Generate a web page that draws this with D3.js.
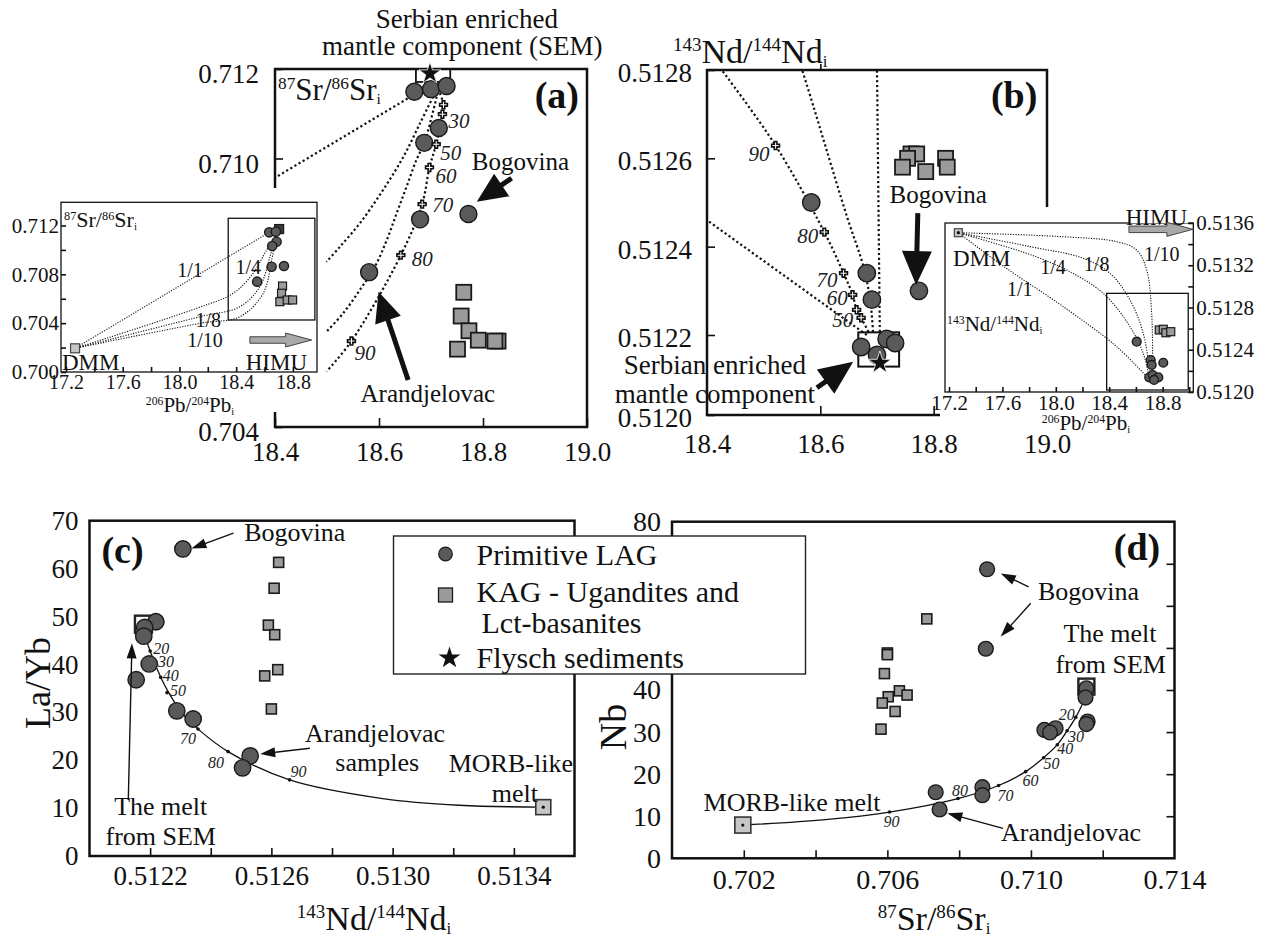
<!DOCTYPE html>
<html><head><meta charset="utf-8">
<script src="https://cdn.jsdelivr.net/npm/d3@7"></script>
<style>html,body{margin:0;padding:0;background:#fff}svg{display:block}</style>
</head><body>
<script>
// ================= DATA =================
// ---- panel (a) main: 206Pb/204Pb (x) vs 87Sr/86Sr (y)
const aXTicks=[18.4,18.6,18.8,19.0];
const aYTicks=[0.704,0.710,0.712];
const aCircles=[[18.668,0.71149],[18.700,0.71155],[18.730,0.71162],[18.715,0.71068],[18.687,0.71035],[18.772,0.70876],[18.679,0.70864],[18.581,0.70746]];
const aSquares=[[18.763,0.70701],[18.758,0.70648],[18.773,0.70615],[18.791,0.70594],[18.829,0.70592],[18.823,0.70592],[18.751,0.70574]];
const aStar=[[18.698,0.71190]];
const aSemBox=[[18.671,0.71171],[18.737,0.71200]];
const aMix1=[[18.655,0.71134],[18.400,0.70957]];
const aMix2=[[18.704,0.71138],[18.679,0.71079],[18.647,0.71004],[18.608,0.70930],[18.563,0.70855],[18.525,0.70803],[18.499,0.70769]];
const aMix3=[[18.711,0.71138],[18.687,0.71035],[18.672,0.70997],[18.653,0.70937],[18.634,0.70878],[18.615,0.70818],[18.592,0.70758],[18.563,0.70706],[18.531,0.70654],[18.499,0.70613]];
const aMix4=[[18.717,0.71146],[18.724,0.71120],[18.722,0.71099],[18.710,0.71032],[18.697,0.70980],[18.683,0.70898],[18.642,0.70784],[18.547,0.70592],[18.499,0.70524]];
const aMixTicks=[[18.724,0.71120,''],[18.722,0.71099,'30'],[18.710,0.71032,'50'],[18.697,0.70980,'60'],[18.683,0.70898,'70'],[18.642,0.70784,'80'],[18.547,0.70592,'90']];
const aNotes=[['Serbian enriched',18.769,0.71292],['mantle component (SEM)',18.760,0.71231],['Bogovina',18.872,0.70974],['Arandjelovac',18.694,0.70456]];
const aArrows=[[18.855,0.709558,18.788,0.709035],[18.656,0.705050,18.599,0.707024]];
const aLetter=['(a)',18.942,0.71113];

// ---- panel (a) inset
const aiXTicks=[17.2,17.6,18.0,18.4,18.8];
const aiYTicks=[0.700,0.704,0.708,0.712];
const aiCircles=[[18.633,0.71144],[18.680,0.71149],[18.685,0.71067],[18.654,0.71032],[18.650,0.70862],[18.737,0.70868],[18.548,0.70740]];
const aiSquares=[[18.727,0.70704],[18.720,0.70645],[18.708,0.70576],[18.760,0.70590],[18.798,0.70590]];
const aiDark=[[18.703,0.71171]];
const aiDMM=[[17.264,0.70194]];
const aiMix11=[[17.264,0.70194],[18.633,0.71144]];
const aiMix14=[[17.264,0.70194],[18.121,0.705218],[18.379,0.706446],[18.520,0.708084],[18.615,0.709993],[18.650,0.710541]];
const aiMix18=[[17.264,0.70194],[18.145,0.704529],[18.426,0.705348],[18.567,0.706987],[18.638,0.709444],[18.661,0.710402]];
const aiMix110=[[17.264,0.70194],[18.145,0.703989],[18.426,0.704529],[18.591,0.706446],[18.650,0.709174],[18.673,0.710402]];
const aiMixLabels=[['1/1',18.074,0.70778],['1/4',18.485,0.70803],['1/8',18.203,0.70369],['1/10',18.180,0.70205]];
const aiZoomBox=[[18.344,0.70426],[18.955,0.71259]];
const aiHimu=[18.497,18.932,0.70262];

// ---- panel (b) main: 206Pb/204Pb (x) vs 143Nd/144Nd (y)
const bXTicks=[18.4,18.6,18.8,19.0];
const bYTicks=[0.5120,0.5122,0.5124,0.5126,0.5128];
const bCircles=[[18.700,0.51215],[18.584,0.51250],[18.682,0.51234],[18.691,0.51228],[18.774,0.51230],[18.672,0.51217],[18.717,0.51219],[18.732,0.51218]];
const bSquares=[[18.760,0.51261],[18.770,0.51261],[18.754,0.51260],[18.745,0.51258],[18.786,0.51257],[18.821,0.51260],[18.824,0.51258]];
const bStar=[[18.705,0.51213]];
const bSemBox=[[18.667,0.512121],[18.739,0.512206]];
const bMix1=[[18.682,0.51220],[18.400,0.51246]];
const bMix2=[[18.685,0.512207],[18.672,0.512239],[18.664,0.512257],[18.657,0.512291],[18.641,0.512340],[18.607,0.512433],[18.521,0.512629],[18.426,0.5128]];
const bMix3=[[18.693,0.512207],[18.688,0.512279],[18.676,0.512355],[18.647,0.512468],[18.611,0.512619],[18.588,0.512717],[18.568,0.5128]];
const bMix4=[[18.705,0.512207],[18.700,0.5128]];
const bMixTicks=[[18.672,0.512239,'50'],[18.664,0.512257,''],[18.657,0.512291,'60'],[18.641,0.512340,'70'],[18.607,0.512433,'80'],[18.521,0.512629,'90']];
const bNotes=[['Bogovina',18.808,0.512499],['Serbian enriched',18.414,0.512103],['mantle component',18.414,0.512030]];
const bArrows=[[18.772,0.512476,18.769,0.512313],[18.594,0.512068,18.658,0.512133]];
const bLetter=['(b)',18.942,0.512714];

// ---- panel (b) inset
const biXTicks=[17.2,17.6,18.0,18.4,18.8];
const biYTicks=[0.5120,0.5124,0.5128,0.5132,0.5136];
const biCircles=[[18.606,0.512476],[18.711,0.512303],[18.718,0.512256],[18.805,0.512277],[18.700,0.512139],[18.726,0.512161],[18.768,0.512139],[18.736,0.512114]];
const biSquares=[[18.775,0.512587],[18.805,0.512594],[18.825,0.512561],[18.861,0.512571]];
const biDMM=[[17.27,0.513508]];
const biMix11=[[17.27,0.513508],[17.619,0.513181],[18.056,0.512808],[18.456,0.512429],[18.681,0.512145]];
const biMix14=[[17.27,0.513508],[17.707,0.513344],[17.882,0.513266],[18.082,0.513155],[18.356,0.512934],[18.556,0.512618],[18.655,0.512366],[18.693,0.512177]];
const biMix18=[[17.27,0.513508],[17.807,0.513376],[18.206,0.513266],[18.406,0.513124],[18.556,0.512871],[18.655,0.512556],[18.706,0.512177]];
const biMix110=[[17.27,0.513508],[18.056,0.513470],[18.456,0.513423],[18.606,0.513344],[18.681,0.513155],[18.718,0.512745],[18.726,0.512192]];
const biMixLabels=[['1/1',17.730,0.512909],['1/4',17.979,0.513117],['1/8',18.306,0.513146],['1/10',18.793,0.513240]];
const biZoomBox=[[18.381,0.512019],[18.992,0.512934]];
const biHimu=[18.548,19.027,0.51354];

// ---- panel (c): 143Nd/144Nd (x) vs La/Yb (y)
const cXTicks=[0.5122,0.5126,0.5130,0.5134];
const cYTicks=[0,10,20,30,40,50,60,70];
const cCircles=[[0.512308,64.1],[0.512219,48.9],[0.512182,47.7],[0.512179,45.9],[0.512197,40.1],[0.512154,36.8],[0.512288,30.3],[0.512342,28.6],[0.512530,20.9],[0.512505,18.4]];
const cSquares=[[0.512624,61.3],[0.512609,55.9],[0.512590,48.2],[0.512611,46.2],[0.512621,38.9],[0.512578,37.6],[0.512600,30.7]];
const cSEM=[[0.512178,48.4]];
const cMORB=[[0.513497,10.2]];
const cMix=[[0.512178,48.4],[0.512182,46.5],[0.512200,42.8],[0.512235,37.3],[0.512264,33.8],[0.512311,29.4],[0.512358,26.5],[0.512457,21.8],[0.512660,15.9],[0.512967,12.0],[0.513220,10.6],[0.513497,10.2]];
const cMixTicks=[[0.512200,42.8,'20'],[0.512216,40.2,'30'],[0.512235,37.3,'40'],[0.512256,34.1,'50'],[0.512358,26.5,'70'],[0.512457,21.8,'80'],[0.512660,15.9,'90']];
const cNotes=[['Bogovina',0.512677,65.8],['Arandjelovac',0.512942,23.8],['samples',0.512949,17.7],['MORB-like',0.513390,17.5],['melt',0.513403,11.3],['The melt',0.512235,8.6],['from SEM',0.512235,2.3]];
const cArrows=[[0.512475,67.4,0.512336,64.2],[0.512727,22.5,0.512563,21.3],[0.512128,11.7,0.512140,44.4]];
const cLetter=['(c)',0.512109,61.2];

// ---- panel (d): 87Sr/86Sr (x) vs Nb (y)
const dXTicks=[0.702,0.706,0.710,0.714];
const dYTicks=[0,10,20,30,40,80];   // 50-70 are hidden behind the legend in the original
const dCircles=[[0.708779,68.7],[0.708743,49.8],[0.711545,40.4],[0.711521,38.2],[0.711579,32.5],[0.711545,31.9],[0.710375,30.5],[0.710687,30.9],[0.710531,29.9],[0.707347,15.7],[0.708648,16.9],[0.708648,15.0],[0.707456,11.6]];
const dSquares=[[0.707099,56.9],[0.706001,48.8],[0.706001,48.4],[0.705918,43.9],[0.706024,38.4],[0.705859,36.9],[0.706335,39.8],[0.706550,38.8],[0.706216,34.9],[0.705823,30.7]];
const dSEM=[[0.711545,40.8]];
const dMORB=[[0.701973,7.9]];
const dMix=[[0.701973,7.9],[0.704271,9.2],[0.706060,11.0],[0.707968,14.2],[0.709099,17.3],[0.709852,20.6],[0.710353,23.9],[0.710735,27.0],[0.711008,30.3],[0.711248,33.5],[0.711521,38.2]];
const dMixTicks=[[0.706060,11.0,'90'],[0.707968,14.2,'80'],[0.709099,17.3,'70'],[0.709852,20.6,'60'],[0.710353,23.9,'50'],[0.710735,27.0,'40'],[0.711008,30.3,'30'],[0.711248,33.5,'20']];
const dNotes=[['Bogovina',0.711604,61.4],['The melt',0.712203,51.4],['from SEM',0.712222,44.0],['MORB-like melt',0.703343,11.2],['Arandjelovac',0.711116,4.1]];
const dArrows=[[0.709935,64.5,0.709161,67.7],[0.709994,60.6,0.709161,52.7],[0.709222,7.1,0.707670,10.7]];
const dLetter=['(d)',0.712955,71.0];

// ---- legend
const legendItems=[['circle',['Primitive LAG']],['square',['KAG - Ugandites and','Lct-basanites']],['star',['Flysch sediments']]];

// ================= STYLE / LAYOUT =================
const FONT="'Liberation Serif','Times New Roman',Times,serif";
const INK='#111';
const C_FILL='#5a5a5a', S_FILL='#9b9b9b', L_FILL='#c6c6c6';
const offA={'30':[6,6],'50':[4,8],'60':[6,8],'70':[10,1],'80':[11,3],'90':[3,12]};
const offB={'50':[-8,2],'60':[-5,3],'70':[-6,6],'80':[-6,4],'90':[-6,8]};
const offC={'20':[11,-3],'30':[11,-2],'40':[10,-2],'50':[11,-2],'70':[-10,9],'80':[-12,11],'90':[9,-8]};
const offD={'90':[2,9],'80':[2,-8],'70':[7,10],'60':[5,9],'50':[8,6],'40':[8,4],'30':[9,6],'20':[-9,-3]};

const svg=d3.select('body').append('svg').attr('width',1261).attr('height',941).attr('font-family',FONT);
svg.append('rect').attr('width',1261).attr('height',941).attr('fill','#fff');

// ---------- helpers ----------
function rich(g,x,y,parts,size,anchor,rot){
  const t=g.append('text').attr('x',x).attr('y',y).attr('font-size',size).attr('fill',INK).attr('text-anchor',anchor||'start');
  if(rot) t.attr('transform',`rotate(${rot},${x},${y})`);
  let cur=0;
  parts.forEach(([s,k])=>{
    const target=k==='sup'?-0.34*size:k==='sub'?0.12*size:0;
    t.append('tspan').attr('dy',target-cur).attr('font-size',k==='sup'?size*0.56:k==='sub'?size*0.5:size).text(s);
    cur=target;
  });
  return t;
}
const PB=[['206','sup'],['Pb/',''],['204','sup'],['Pb',''],['i','sub']];
const SR=[['87','sup'],['Sr/',''],['86','sup'],['Sr',''],['i','sub']];
const ND=[['143','sup'],['Nd/',''],['144','sup'],['Nd',''],['i','sub']];

function axis(g,gen,tx,ty,size){
  const a=g.append('g').attr('transform',`translate(${tx},${ty})`).call(gen);
  a.select('.domain').remove();
  a.selectAll('.tick line').attr('stroke',INK).attr('stroke-width',1.6);
  a.selectAll('.tick text').attr('font-size',size).attr('font-family',FONT).attr('fill',INK);
  return a;
}
function labelIf(list,fmt){return d=>list.some(t=>Math.abs(t-d)<1e-9)?fmt(d):'';}
function frame(g,xs,ys,w){
  const [x0,x1]=xs.range(), [y0,y1]=[d3.min(ys.range()),d3.max(ys.range())];
  g.append('rect').attr('x',Math.min(x0,x1)).attr('y',y0).attr('width',Math.abs(x1-x0)).attr('height',y1-y0).attr('fill','none').attr('stroke',INK).attr('stroke-width',w);
}
function curve(g,pts,xs,ys,w,dash){
  g.append('path').datum(pts).attr('d',d3.line().x(d=>xs(d[0])).y(d=>ys(d[1])).curve(d3.curveCatmullRom.alpha(0.5)))
   .attr('fill','none').attr('stroke',INK).attr('stroke-width',w).attr('stroke-dasharray',dash||null);
}
function circles(g,data,xs,ys,r,fill){
  g.selectAll(null).data(data).join('circle').attr('cx',d=>xs(d[0])).attr('cy',d=>ys(d[1])).attr('r',r)
   .attr('fill',fill||C_FILL).attr('stroke','#1a1a1a').attr('stroke-width',1.4);
}
function squares(g,data,xs,ys,s,fill,sw,stroke){
  g.selectAll(null).data(data).join('rect').attr('x',d=>xs(d[0])-s/2).attr('y',d=>ys(d[1])-s/2).attr('width',s).attr('height',s)
   .attr('fill',fill).attr('stroke',stroke||'#1a1a1a').attr('stroke-width',sw||1.6);
}
function centerDots(g,data,xs,ys){
  g.selectAll(null).data(data).join('circle').attr('cx',d=>xs(d[0])).attr('cy',d=>ys(d[1])).attr('r',1.6).attr('fill',INK);
}
function stars(g,data,xs,ys,size){
  g.selectAll(null).data(data).join('path').attr('d',d3.symbol(d3.symbolStar,size)())
   .attr('transform',d=>`translate(${xs(d[0])},${ys(d[1])})`).attr('fill',INK).attr('stroke','#fff').attr('stroke-width',0.8);
}
function crosses(g,data,xs,ys){
  g.selectAll(null).data(data).join('path').attr('d',d3.symbol(d3.symbolCross,34)())
   .attr('transform',d=>`translate(${xs(d[0])},${ys(d[1])})`).attr('fill','#fff').attr('stroke',INK).attr('stroke-width',1.6);
}
function tickLabels(g,data,xs,ys,off,size,anchor){
  data.filter(d=>d[2]&&off[d[2]]).forEach(d=>{
    const o=off[d[2]];
    g.append('text').attr('x',xs(d[0])+o[0]).attr('y',ys(d[1])+o[1]).attr('dy','0.35em').attr('font-size',size)
     .attr('font-style','italic').attr('fill','#222').attr('text-anchor',anchor).text(d[2]);
  });
}
function smallDots(g,data,xs,ys){
  g.selectAll(null).data(data).join('circle').attr('cx',d=>xs(d[0])).attr('cy',d=>ys(d[1])).attr('r',1.8).attr('fill',INK);
}
function notes(g,data,xs,ys,size,anchor){
  data.forEach(d=>g.append('text').attr('x',xs(d[1])).attr('y',ys(d[2])).attr('font-size',size).attr('fill',INK).attr('text-anchor',anchor||'middle').text(d[0]));
}
function arrows(g,data,xs,ys,w,hl,hw){
  data.forEach(a=>{
    const x1=xs(a[0]),y1=ys(a[1]),x2=xs(a[2]),y2=ys(a[3]);
    const dx=x2-x1,dy=y2-y1,L=Math.hypot(dx,dy),ux=dx/L,uy=dy/L;
    const bx=x2-ux*hl,by=y2-uy*hl;
    g.append('line').attr('x1',x1).attr('y1',y1).attr('x2',bx+ux*2).attr('y2',by+uy*2).attr('stroke',INK).attr('stroke-width',w);
    g.append('path').attr('d',`M${x2},${y2}L${bx-uy*hw/2},${by+ux*hw/2}L${bx+uy*hw/2},${by-ux*hw/2}Z`).attr('fill',INK);
  });
}
function fatArrow(g,h,xs,ys){
  const x1=xs(h[0]),x2=xs(h[1]),y=ys(h[2]),sh=6.5,hl=26,hw=14,hx=x2-hl;
  g.append('path').attr('d',`M${x1},${y-sh/2}H${hx}V${y-hw/2}L${x2},${y}L${hx},${y+hw/2}V${y+sh/2}H${x1}Z`)
   .attr('fill','#a9a9a9').attr('stroke','#444').attr('stroke-width',1);
}
function letter(g,l,xs,ys){
  g.append('text').attr('x',xs(l[1])).attr('y',ys(l[2])).attr('font-size',38).attr('font-weight','bold').attr('fill',INK).attr('text-anchor','middle').text(l[0]);
}
function boxOutline(g,b,xs,ys,w){
  const x0=xs(b[0][0]),x1=xs(b[1][0]),y0=ys(b[0][1]),y1=ys(b[1][1]);
  g.append('rect').attr('x',Math.min(x0,x1)).attr('y',Math.min(y0,y1)).attr('width',Math.abs(x1-x0)).attr('height',Math.abs(y1-y0))
   .attr('fill','none').attr('stroke',INK).attr('stroke-width',w);
}

// ================= PANEL (a) =================
const xA=d3.scaleLinear().domain([18.4,19.0]).range([275,587]);
const yA=d3.scaleLinear().domain([0.704,0.712]).range([427,69]);
const gA=svg.append('g');
frame(gA,xA,yA,2.5);
axis(gA,d3.axisBottom(xA).tickValues(aXTicks).tickSize(-9).tickPadding(15).tickFormat(d3.format('.1f')),0,yA(0.704),27);
axis(gA,d3.axisLeft(yA).tickValues(aYTicks).tickSize(-8).tickPadding(16).tickFormat(d3.format('.3f')),xA(18.4),0,27)
  .selectAll('.tick text').attr('transform','translate(0,5)');
[aMix1,aMix2,aMix3,aMix4].forEach(m=>curve(gA,m,xA,yA,2.2,'2.2,2.6'));
boxOutline(gA,aSemBox,xA,yA,1.8);
squares(gA,aSquares,xA,yA,15,S_FILL,1.8);
circles(gA,aCircles,xA,yA,8.5);
crosses(gA,aMixTicks,xA,yA);
tickLabels(gA,aMixTicks,xA,yA,offA,21,'start');
stars(gA,aStar,xA,yA,150);
notes(gA,aNotes.slice(0,2),xA,yA,27);
notes(gA,aNotes.slice(2),xA,yA,25);
arrows(gA,aArrows,xA,yA,5,30,27);
letter(gA,aLetter,xA,yA);
rich(gA,xA(18.4)+3,yA(0.712)+31,SR,31,'start');

// ---- inset (a)
svg.append('rect').attr('x',0).attr('y',188).attr('width',322).attr('height',224).attr('fill','#fff');
const xAi=d3.scaleLinear().domain([17.165,18.97]).range([61,317]);
const yAi=d3.scaleLinear().domain([0.700,0.7139]).range([372,202.3]);
const gAi=svg.append('g');
frame(gAi,xAi,yAi,1.3);
axis(gAi,d3.axisBottom(xAi).tickValues(d3.range(17.2,18.95,0.2)).tickSize(-5).tickPadding(3).tickFormat(labelIf(aiXTicks,d3.format('.1f'))),0,yAi(0.700),20);
axis(gAi,d3.axisLeft(yAi).tickValues(d3.range(0.700,0.7131,0.002)).tickSize(-5).tickPadding(2).tickFormat(labelIf(aiYTicks,d3.format('.3f'))),xAi.range()[0],0,21);
boxOutline(gAi,aiZoomBox,xAi,yAi,1.3);
[aiMix11,aiMix14,aiMix18,aiMix110].forEach(m=>curve(gAi,m,xAi,yAi,1.1,'1.2,1.4'));
squares(gAi,aiDark,xAi,yAi,9,'#3a3a3a',1.2);
squares(gAi,aiSquares,xAi,yAi,8,S_FILL,1.2);
circles(gAi,aiCircles,xAi,yAi,4.6);
squares(gAi,aiDMM,xAi,yAi,9,L_FILL,1.2,'#444');
notes(gAi,aiMixLabels,xAi,yAi,20);
gAi.append('text').attr('x',xAi(17.172)).attr('y',yAi(0.70015)).attr('font-size',23).attr('fill',INK).text('DMM');
gAi.append('text').attr('x',xAi(18.90)).attr('y',yAi(0.70015)).attr('font-size',23).attr('fill',INK).attr('text-anchor','end').text('HIMU');
fatArrow(gAi,aiHimu,xAi,yAi);
rich(gAi,64,227,SR,22,'start');
rich(gAi,190,412,PB,21,'middle');

// ================= PANEL (b) =================
const xB=d3.scaleLinear().domain([18.4,19.0]).range([707,1047]);
const yB=d3.scaleLinear().domain([0.5120,0.5122,0.5128]).range([415,335,70]);
const gB=svg.append('g');
frame(gB,xB,yB,2.5);
axis(gB,d3.axisBottom(xB).tickValues([18.6,18.8]).tickSize(-9).tickFormat(''),0,yB(0.5120),27);
axis(gB,d3.axisTop(xB).tickValues([18.6]).tickSize(6).tickFormat(''),0,yB(0.5128),27);
axis(gB,d3.axisLeft(yB).tickValues(bYTicks).tickSize(-8).tickPadding(15).tickFormat(d3.format('.4f')),xB(18.4),0,27)
  .selectAll('.tick text').attr('transform','translate(0,3)');
[bMix1,bMix2,bMix3,bMix4].forEach(m=>curve(gB,m,xB,yB,2.2,'2.2,2.6'));
boxOutline(gB,bSemBox,xB,yB,2);
squares(gB,bSquares,xB,yB,15,S_FILL,1.8);
circles(gB,bCircles,xB,yB,8.7);
crosses(gB,bMixTicks,xB,yB);
tickLabels(gB,bMixTicks,xB,yB,offB,21,'end');
stars(gB,bStar,xB,yB,160);
notes(gB,bNotes.slice(0,1),xB,yB,25);
notes(gB,bNotes.slice(1),xB,yB,27);
arrows(gB,bArrows,xB,yB,5,34,30);
letter(gB,bLetter,xB,yB);
rich(gB,673,63,ND,34,'start');

// ---- inset (b)
svg.append('rect').attr('x',940).attr('y',207).attr('width',321).attr('height',210).attr('fill','#fff');
axis(gB,d3.axisBottom(xB).tickValues(bXTicks).tickSize(0).tickPadding(19).tickFormat(d3.format('.1f')),0,yB(0.5120),27);
const xBi=d3.scaleLinear().domain([17.17,19.03]).range([945,1193.3]);
const yBi=d3.scaleLinear().domain([0.5120,0.5136]).range([392,223]);
const gBi=svg.append('g');
frame(gBi,xBi,yBi,1.3);
axis(gBi,d3.axisBottom(xBi).tickValues(d3.range(17.2,19.01,0.2)).tickSize(-5).tickPadding(3).tickFormat(labelIf(biXTicks,d3.format('.1f'))),0,yBi(0.5120),21);
axis(gBi,d3.axisRight(yBi).tickValues(d3.range(0.5120,0.51361,0.0002)).tickSize(-5).tickPadding(3).tickFormat(labelIf(biYTicks,d3.format('.4f'))),xBi.range()[1],0,21);
boxOutline(gBi,biZoomBox,xBi,yBi,1.3);
[biMix11,biMix14,biMix18,biMix110].forEach(m=>curve(gBi,m,xBi,yBi,1.1,'1.2,1.4'));
squares(gBi,biSquares,xBi,yBi,8,S_FILL,1.2);
circles(gBi,biCircles,xBi,yBi,4.4);
squares(gBi,biDMM,xBi,yBi,8,L_FILL,1.2,'#444');
centerDots(gBi,biDMM,xBi,yBi);
notes(gBi,biMixLabels,xBi,yBi,20);
gBi.append('text').attr('x',xBi(17.23)).attr('y',yBi(0.513193)).attr('font-size',23).attr('fill',INK).text('DMM');
gBi.append('rect').attr('x',xBi(18.55)).attr('y',yBi(0.51375)).attr('width',xBi(18.99)-xBi(18.55)).attr('height',16).attr('fill','#fff');
gBi.append('text').attr('x',xBi(18.983)).attr('y',yBi(0.513581)).attr('font-size',23).attr('fill',INK).attr('text-anchor','end').text('HIMU');
fatArrow(gBi,biHimu,xBi,yBi);
rich(gBi,947,331,ND,21,'start');
rich(gBi,1086,430,PB,21,'middle');

// ================= PANEL (c) =================
const xC=d3.scaleLinear().domain([0.5120,0.5136]).range([89.5,574.5]);
const yC=d3.scaleLinear().domain([0,70]).range([856,520.7]);
const gC=svg.append('g');
frame(gC,xC,yC,2.5);
axis(gC,d3.axisBottom(xC).tickValues(d3.range(0.5122,0.51345,0.0002)).tickSize(-8).tickFormat(''),0,yC(0),27);
axis(gC,d3.axisBottom(xC).tickValues(cXTicks).tickSize(0).tickPadding(10).tickFormat(d3.format('.4f')),0,yC(0),27);
axis(gC,d3.axisLeft(yC).tickValues(cYTicks).tickSize(0).tickPadding(11),xC(0.5120),0,27);
curve(gC,cMix,xC,yC,1.3);
smallDots(gC,cMixTicks,xC,yC);
tickLabels(gC,cMixTicks,xC,yC,offC,16,'middle');
squares(gC,cSEM,xC,yC,17,'none',2.4,'#222');
squares(gC,cSquares,xC,yC,10,S_FILL,1.6);
circles(gC,cCircles,xC,yC,8.2);
squares(gC,cMORB,xC,yC,15,L_FILL,1.6,'#333');
centerDots(gC,cMORB,xC,yC);
notes(gC,cNotes,xC,yC,26);
arrows(gC,cArrows,xC,yC,1.4,15,10);
letter(gC,cLetter,xC,yC);
rich(gC,374,930,ND,34,'middle');
rich(gC,50,683,[['La/Yb','']],36,'middle',-90);

// ================= PANEL (d) =================
const xD=d3.scaleLinear().domain([0.700,0.714]).range([672,1174.5]);
const yD=d3.scaleLinear().domain([0,80]).range([858.3,521.7]);
const gD=svg.append('g');
frame(gD,xD,yD,2.5);
axis(gD,d3.axisBottom(xD).tickValues(d3.range(0.702,0.7131,0.002)).tickSize(-8).tickFormat(''),0,yD(0),27);
axis(gD,d3.axisBottom(xD).tickValues(dXTicks).tickSize(0).tickPadding(11).tickFormat(d3.format('.3f')),0,yD(0),28);
axis(gD,d3.axisLeft(yD).tickValues(dYTicks).tickSize(0).tickPadding(11),xD(0.700),0,28);
axis(gD,d3.axisRight(yD).tickValues(d3.range(10,71,10)).tickSize(-8).tickFormat(''),xD(0.714),0,27);
curve(gD,dMix,xD,yD,1.3);
smallDots(gD,dMixTicks,xD,yD);
tickLabels(gD,dMixTicks,xD,yD,offD,16,'middle');
squares(gD,dSEM,xD,yD,16,'none',2.4,'#222');
squares(gD,dSquares,xD,yD,10,S_FILL,1.6);
circles(gD,dCircles,xD,yD,7.4);
squares(gD,dMORB,xD,yD,16,L_FILL,1.6,'#333');
centerDots(gD,dMORB,xD,yD);
notes(gD,dNotes,xD,yD,26);
arrows(gD,dArrows,xD,yD,1.4,15,10);
letter(gD,dLetter,xD,yD);
rich(gD,934,930,SR,34,'middle');
rich(gD,626,727,[['Nb','']],38,'middle',-90);

// ================= LEGEND =================
const gL=svg.append('g').attr('transform','translate(393.5,536)');
gL.append('rect').attr('width',412).attr('height',138).attr('fill','#fff').attr('stroke','#222').attr('stroke-width',1.4);
const rows=[{sy:18,ty:[29]},{sy:59,ty:[66,97]},{sy:121,ty:[132]}];
legendItems.forEach((it,i)=>{
  const r=rows[i];
  if(it[0]==='circle') gL.append('circle').attr('cx',52).attr('cy',r.sy).attr('r',6.8).attr('fill',C_FILL).attr('stroke','#1a1a1a').attr('stroke-width',1.2);
  if(it[0]==='square') gL.append('rect').attr('x',45).attr('y',r.sy-7).attr('width',14).attr('height',14).attr('fill',S_FILL).attr('stroke','#1a1a1a').attr('stroke-width',1.3);
  if(it[0]==='star') gL.append('path').attr('d',d3.symbol(d3.symbolStar,150)()).attr('transform',`translate(56,${r.sy+1})`).attr('fill',INK);
  it[1].forEach((s,j)=>gL.append('text').attr('x',j===0?83:88).attr('y',r.ty[j]).attr('font-size',30).attr('fill',INK).text(s));
});
</script>
</body></html>
